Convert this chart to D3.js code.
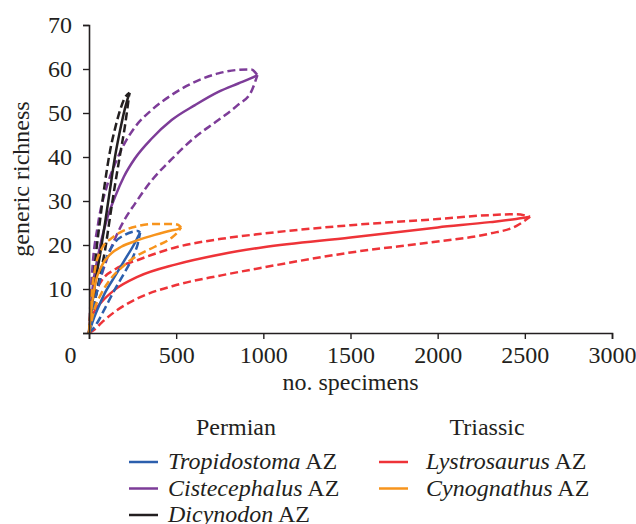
<!DOCTYPE html>
<html>
<head>
<meta charset="utf-8">
<script src="https://cdn.jsdelivr.net/npm/d3@7"></script>
<style>
  body { margin: 0; background: #fff; }
  text { font-family: 'Liberation Serif', 'Times New Roman', serif; fill: #231f20; }
</style>
</head>
<body>
<svg id="chart"></svg>
<script>
// sample sizes and rarefied richness (mean, lower / upper 95% CI) per assemblage zone
const tropN = [0, 20, 50, 90, 147, 205, 262, 280, 293];
const tropMean = [0, 2.5, 5.5, 9, 12.8, 16.6, 20.4, 21.8, 22.8];
const tropLo = [0, 0.8, 2.5, 5.5, 9.8, 13.8, 18.2, 20.3, 22.8];
const tropHi = [0, 5, 10, 16, 20.5, 22.3, 23.1, 23.2, 22.8];

const cistN = [0, 15, 53, 100, 150, 200, 264, 360, 474, 608, 742, 856, 930, 966];
const cistMean = [0, 8, 17.7, 25.5, 31, 35.5, 39.7, 44.2, 48.4, 51.8, 54.8, 56.7, 57.9, 58.6];
const cistLo = [0, 4, 10.5, 16.5, 21.5, 25.5, 29.4, 34.7, 39.5, 44.5, 48.4, 51.9, 54.8, 58.6];
const cistHi = [0, 12, 25, 33, 38.5, 42.8, 46.8, 50.7, 54.1, 57.1, 59, 59.8, 59.9, 58.6];

const dicyN = [0, 20, 40, 63, 92, 120, 149, 178, 206, 232];
const dicyMean = [0, 7, 12.5, 17.7, 25, 32.5, 40, 46, 51, 54.6];
const dicyLo = [0, 4, 8.5, 13, 18.8, 26.2, 33.6, 40.5, 47, 54.6];
const dicyHi = [0, 10, 18, 25.5, 34.3, 41.2, 46.4, 50.6, 53.5, 54.6];

const lystN = [0, 13, 32, 71, 147, 281, 500, 759, 1000, 1500, 2000, 2300, 2450, 2530];
const lystMean = [0, 3.2, 5, 7, 9.8, 12.8, 15.6, 17.9, 19.5, 21.7, 24, 25.2, 25.9, 26.4];
const lystLo = [0, 0.3, 0.8, 2.3, 4.8, 7.9, 10.9, 13.1, 14.9, 18.3, 20.8, 22.6, 24.3, 26.4];
const lystHi = [0, 5, 8.5, 11.8, 14.4, 16.6, 19.5, 21.4, 22.6, 24.5, 25.9, 26.8, 27, 26.4];

const cynoN = [0, 13, 32, 71, 128, 185, 281, 377, 472, 510, 528];
const cynoMean = [0, 5.2, 10.5, 15.1, 18.1, 19.6, 21.1, 22.3, 23.3, 23.6, 24];
const cynoLo = [0, 2.5, 5.5, 9, 12.5, 14.8, 17.7, 19.6, 21.6, 23, 24];
const cynoHi = [0, 8, 14, 19, 21.5, 23, 24.3, 24.8, 24.8, 24.6, 24];

const xTicks = [0, 500, 1000, 1500, 2000, 2500, 3000];
const yTicks = [0, 10, 20, 30, 40, 50, 60, 70];

const zones = [
  {name: 'Lystrosaurus', n: lystN, mean: lystMean, lo: lystLo, hi: lystHi, color: '#ee3338'},
  {name: 'Cistecephalus', n: cistN, mean: cistMean, lo: cistLo, hi: cistHi, color: '#7d3c98'},
  {name: 'Dicynodon', n: dicyN, mean: dicyMean, lo: dicyLo, hi: dicyHi, color: '#231f20'},
  {name: 'Tropidostoma', n: tropN, mean: tropMean, lo: tropLo, hi: tropHi, color: '#2c5fad'},
  {name: 'Cynognathus', n: cynoN, mean: cynoMean, lo: cynoLo, hi: cynoHi, color: '#f7941d'}
];

const permian = ['Tropidostoma', 'Cistecephalus', 'Dicynodon'];
const triassic = ['Lystrosaurus', 'Cynognathus'];

class RarefactionChart {

  constructor(config) {
    this.config = config;
    this.width = config.width;
    this.height = config.height;
    this.svg = d3.select(config.element)
        .attr('width', this.width)
        .attr('height', this.height);

    this.xScale = d3.scaleLinear().domain([0, 3000]).range([89, 612]);
    this.yScale = d3.scaleLinear().domain([0, 70]).range([333, 25]);
    this.colorOf = {};
    zones.forEach((z) => { this.colorOf[z.name] = z.color; });

    this.drawCurves();
    this.drawAxis();
    this.drawLegend();
  }

  drawAxis() {
    const xAxis = this.svg.append('g')
        .attr('transform', 'translate(0,' + this.yScale(0) + ')')
        .call(d3.axisBottom(this.xScale).tickValues(xTicks).tickSize(6).tickPadding(7).tickFormat(d3.format('d')));

    const yAxis = this.svg.append('g')
        .attr('transform', 'translate(' + this.xScale(0) + ',0)')
        .call(d3.axisLeft(this.yScale).tickValues(yTicks).tickSize(6).tickPadding(11)
            .tickFormat((d) => d === 0 ? '' : d));

    [xAxis, yAxis].forEach((ax) => {
      ax.select('.domain').attr('stroke', '#231f20').attr('stroke-width', 1.6);
      ax.selectAll('.tick line').attr('stroke', '#231f20').attr('stroke-width', 1.4);
      ax.selectAll('.tick text')
          .attr('fill', '#231f20')
          .style('font-family', 'Liberation Serif')
          .style('font-size', '24px');
    });
    xAxis.selectAll('.tick text').filter((d) => d === 0).attr('x', -19);

    this.svg.append('text')
        .attr('x', (this.xScale(0) + this.xScale(3000)) / 2)
        .attr('y', 390)
        .attr('text-anchor', 'middle')
        .style('font-size', '24px')
        .text('no. specimens');

    this.svg.append('text')
        .attr('transform', 'translate(29,' + ((this.yScale(0) + this.yScale(70)) / 2) + ') rotate(-90)')
        .attr('text-anchor', 'middle')
        .style('font-size', '24px')
        .text('generic richness');
  }

  drawCurves() {
    const plot = this.svg.append('g');
    zones.forEach((z) => {
      ['lo', 'hi', 'mean'].forEach((key) => {
        const line = d3.line()
            .x((d, i) => this.xScale(z.n[i]))
            .y((d) => this.yScale(d))
            .curve(d3.curveMonotoneX);
        plot.append('path')
            .datum(z[key])
            .attr('fill', 'none')
            .attr('stroke', z.color)
            .attr('stroke-width', 2.5)
            .attr('stroke-linejoin', 'round')
            .attr('stroke-dasharray', key === 'mean' ? null : '8,4')
            .attr('d', line);
      });
    });
  }

  drawLegend() {
    const cols = [
      {title: 'Permian', names: permian, titleX: 236, lineX: 129, textX: 168},
      {title: 'Triassic', names: triassic, titleX: 487, lineX: 379, textX: 426}
    ];
    const legend = this.svg.append('g');

    cols.forEach((c) => {
      legend.append('text')
          .attr('x', c.titleX)
          .attr('y', 435)
          .attr('text-anchor', 'middle')
          .style('font-size', '24px')
          .text(c.title);

      c.names.forEach((name, i) => {
        const y = 462 + i * 26.5;
        legend.append('line')
            .attr('x1', c.lineX)
            .attr('x2', c.lineX + 29)
            .attr('y1', y)
            .attr('y2', y)
            .attr('stroke', this.colorOf[name])
            .attr('stroke-width', 2.5);
        const t = legend.append('text')
            .attr('x', c.textX)
            .attr('y', y + 7)
            .style('font-size', '24px');
        t.append('tspan').style('font-style', 'italic').text(name);
        t.append('tspan').text(' AZ');
      });
    });
  }
}

new RarefactionChart({element: '#chart', width: 636, height: 524});
</script>
</body>
</html>
